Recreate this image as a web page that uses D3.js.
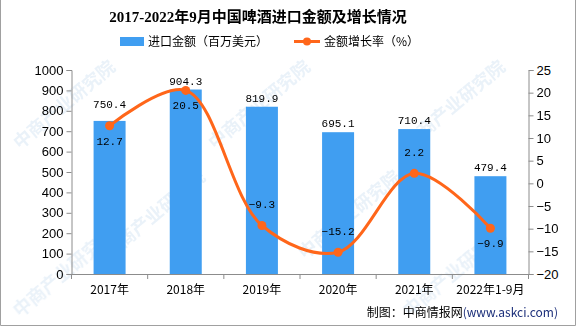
<!DOCTYPE html>
<html><head><meta charset="utf-8">
<script src="https://cdn.jsdelivr.net/npm/d3@7/dist/d3.min.js"></script>
<style>body{margin:0;background:#fff}svg{display:block}</style>
</head><body>
<svg id="c" width="576" height="327"></svg>
<script>
const categories = ["2017年","2018年","2019年","2020年","2021年","2022年1-9月"];
const amounts = [750.4, 904.3, 819.9, 695.1, 710.4, 479.4];
const growth = [12.7, 20.5, -9.3, -15.2, 2.2, -9.9];
const leftTicks = [0,100,200,300,400,500,600,700,800,900,1000];
const rightTicks = [-20,-15,-10,-5,0,5,10,15,20,25];
const growthLabelSide = ["below","below","above","above","above","below"];

const svg = d3.select("#c");
const m = {left:71.5, right:528.5, top:70, bottom:274};
const blue = "#409ef1", orange = "#ff661a";
const numFont = "'Liberation Mono', 'DejaVu Sans Mono', monospace";
const cjk = "'Noto Sans CJK SC', sans-serif";

// border
svg.append("path").attr("d", `M0.5,0 V325.5 H575.5 V0`).attr("fill","none").attr("stroke","#a0a0a0");

// watermark
const wm = svg.append("g").attr("fill","#dce9f5").attr("font-family",cjk).attr("font-size",18).attr("font-weight","bold").attr("opacity",0.6);
[[20,150],[215,150],[410,150],[110,260],[305,260],[20,318],[410,318]].forEach(([x,y])=>{
  wm.append("text").attr("transform",`translate(${x},${y}) rotate(-40)`).text("中商产业研究院");
});

const xb = d3.scaleBand().domain(categories).range([m.left, m.right]);
const yL = d3.scaleLinear().domain([0,1000]).range([m.bottom, m.top]);
const yR = d3.scaleLinear().domain([-20,25]).range([m.bottom, m.top]);

// bars
svg.append("g").selectAll("rect").data(amounts).join("rect")
  .attr("x",(d,i)=>xb(categories[i]) + xb.bandwidth()/2 - 16)
  .attr("width",32)
  .attr("y",d=>yL(d)).attr("height",d=>m.bottom-yL(d))
  .attr("fill",blue);

// axes
const axisColor = "#8c8c8c";
const gl = svg.append("g").attr("transform",`translate(${m.left},0)`)
  .call(d3.axisLeft(yL).tickValues(leftTicks).tickSize(5).tickPadding(3).tickFormat(d3.format("d")));
const gr = svg.append("g").attr("transform",`translate(${m.right},0)`)
  .call(d3.axisRight(yR).tickValues(rightTicks).tickSize(5).tickPadding(3).tickFormat(d3.format("d")));
const gx = svg.append("g").attr("transform",`translate(0,${m.bottom})`)
  .call(d3.axisBottom(xb).tickSize(0).tickPadding(11));
svg.append("g").selectAll("line").data(d3.range(categories.length+1)).join("line")
  .attr("x1",i=>m.left + i*xb.step()).attr("x2",i=>m.left + i*xb.step())
  .attr("y1",m.bottom).attr("y2",m.bottom+5).attr("stroke",axisColor);
[gl,gr,gx].forEach(g=>{
  g.selectAll("path.domain,line").attr("stroke",axisColor);
  g.selectAll("text").attr("fill","#000");
});
gl.selectAll("text").attr("font-family","'Liberation Sans', Arial, sans-serif").attr("font-size",13);
gr.selectAll("text").attr("font-family","'Liberation Sans', Arial, sans-serif").attr("font-size",13);
gx.selectAll("text").attr("font-family",cjk).attr("font-size",12);

// bar labels
svg.append("g").selectAll("text").data(amounts).join("text")
  .attr("x",(d,i)=>xb(categories[i]) + xb.bandwidth()/2)
  .attr("y",(d,i)=>{
    const top = yL(d), pt = yR(growth[i]);
    if (Math.abs(pt-top) < 10 && top-26 > m.top) return top - 13;
    return top - 5;
  })
  .attr("text-anchor","middle").attr("font-family",numFont).attr("font-size",11).attr("fill","#000")
  .text(d=>d3.format(".1f")(d));

// line
const pts = growth.map((g,i)=>[xb(categories[i]) + xb.bandwidth()/2, yR(g)]);
svg.append("path").attr("d", d3.line().curve(d3.curveCatmullRom.alpha(0.5))(pts))
  .attr("fill","none").attr("stroke",orange).attr("stroke-width",3);
svg.append("g").selectAll("circle").data(pts).join("circle")
  .attr("cx",d=>d[0]).attr("cy",d=>d[1]).attr("r",4.5).attr("fill",orange);

svg.append("g").selectAll("text").data(growth).join("text")
  .attr("x",(d,i)=>pts[i][0])
  .attr("y",(d,i)=>growthLabelSide[i]==="below" ? pts[i][1]+19 : pts[i][1]-17)
  .attr("text-anchor","middle").attr("font-family",numFont).attr("font-size",11).attr("fill","#000")
  .text(d=>d3.format(".1f")(d));

// title
svg.append("text").attr("x",258).attr("y",22).attr("text-anchor","middle")
  .attr("font-family","'Liberation Serif', 'Noto Sans CJK SC', serif").attr("font-weight","bold").attr("font-size",15)
  .attr("fill","#000").text("2017-2022年9月中国啤酒进口金额及增长情况");

// legend
const lg = svg.append("g").attr("font-family",cjk).attr("font-size",12).attr("fill","#000");
lg.append("rect").attr("x",120).attr("y",37).attr("width",24).attr("height",9).attr("fill",blue);
lg.append("text").attr("x",148).attr("y",46).text("进口金额（百万美元）");
lg.append("line").attr("x1",294).attr("x2",320).attr("y1",41.5).attr("y2",41.5).attr("stroke",orange).attr("stroke-width",3);
lg.append("circle").attr("cx",307).attr("cy",41.5).attr("r",4).attr("fill",orange);
lg.append("text").attr("x",324).attr("y",46).text("金额增长率（%）");

// source
const src = svg.append("text").attr("x",558).attr("y",317).attr("text-anchor","end")
  .attr("font-family",cjk).attr("font-size",12).attr("fill","#000");
src.append("tspan").text("制图：中商情报网");
src.append("tspan").attr("fill","#1c2f7a").text("(www.askci.com)");
</script>
</body></html>
